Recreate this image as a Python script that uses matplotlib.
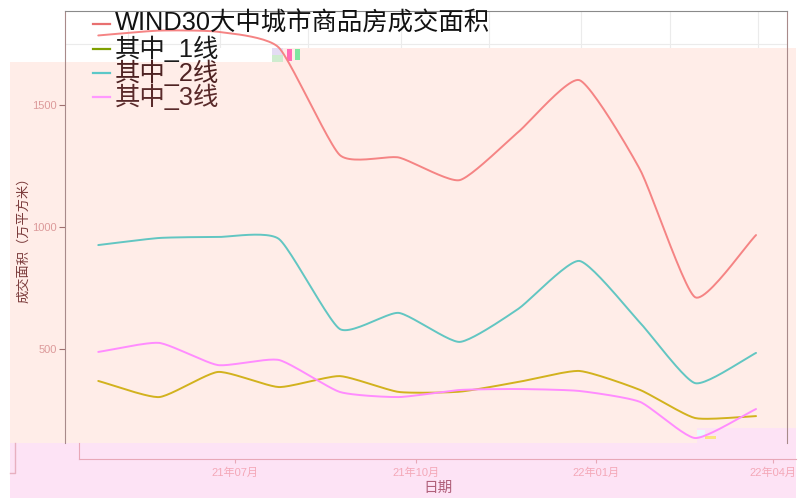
import numpy as np
import matplotlib
matplotlib.use('Agg')
import matplotlib.pyplot as plt
import matplotlib.dates as mdates
from matplotlib.patches import Rectangle
from matplotlib.lines import Line2D
import datetime as dt

plt.rcParams['font.family'] = ['Liberation Sans', 'Noto Sans CJK SC']

# ---------------- data ----------------
dates = ['2021-04-30', '2021-05-31', '2021-06-30', '2021-07-31', '2021-08-31', '2021-09-30',
         '2021-10-31', '2021-11-30', '2021-12-31', '2022-01-31', '2022-02-28', '2022-03-31']
total = [1785, 1805, 1800, 1735, 1295, 1285, 1192, 1390, 1602, 1234, 712, 967]
tier1 = [369, 303, 406, 344, 389, 324, 325, 365, 410, 332, 217, 225]
tier2 = [926, 955, 959, 951, 582, 648, 529, 665, 861, 607, 360, 484]
tier3 = [488, 525, 434, 455, 324, 303, 332, 336, 328, 283, 135, 254]
series_names = ['WIND30大中城市商品房成交面积', '其中_1线', '其中_2线', '其中_3线']
y_ticks = [500, 1000, 1500]
y_minor = [750, 1250, 1750]
x_tick_dates = ['2021-07-01', '2021-10-01', '2022-01-01', '2022-04-01']
y_label = '成交面积（万平方米）'
x_label = '日期'

line_colors = ['#f58484', '#d2b21e', '#62c6c2', '#ff8cff']
legend_colors = ['#e87070', '#7fa000', '#5cc8c8', '#ff99ff']
legend_text_colors = ['#111111', '#1a1a1a', '#4e2222', '#5a2a2a']

W, H = 801, 498
fig = plt.figure(figsize=(W / 100, H / 100), dpi=100, facecolor='white')


def fx(px):
    return px / W


def fy(py):
    return 1 - py / H


def smooth(x, y, n=24, s=0.55):
    """cardinal spline (rendering only) through the given points"""
    x = np.asarray(x, float)
    y = np.asarray(y, float)
    k = len(x)
    mx = np.zeros(k)
    my = np.zeros(k)
    for i in range(k):
        a = max(i - 1, 0)
        b = min(i + 1, k - 1)
        mx[i] = s * (x[b] - x[a]) / (b - a)
        my[i] = s * (y[b] - y[a]) / (b - a)
    t = np.linspace(0, 1, n, endpoint=False)
    h00 = 2 * t ** 3 - 3 * t ** 2 + 1
    h10 = t ** 3 - 2 * t ** 2 + t
    h01 = -2 * t ** 3 + 3 * t ** 2
    h11 = t ** 3 - t ** 2
    ox, oy = [], []
    for i in range(k - 1):
        ox.extend(h00 * x[i] + h10 * mx[i] + h01 * x[i + 1] + h11 * mx[i + 1])
        oy.extend(h00 * y[i] + h10 * my[i] + h01 * y[i + 1] + h11 * my[i + 1])
    ox.append(x[-1])
    oy.append(y[-1])
    return np.array(ox), np.array(oy)


xd = mdates.date2num([dt.datetime.strptime(d, '%Y-%m-%d') for d in dates])

ax = fig.add_axes([fx(65), fy(443), fx(787) - fx(65), fy(11) - fy(443)])
ax.set_facecolor('white')

jul1 = mdates.date2num(dt.datetime(2021, 7, 1))
ppd = 538 / 274.0
ax.set_xlim(jul1 - (220 - 65) / ppd, jul1 + (787 - 220) / ppd)
ax.set_ylim((471 - 443) / 0.244, (471 - 11) / 0.244)

ax.xaxis.set_major_locator(mdates.MonthLocator(bymonth=[1, 4, 7, 10]))
ax.xaxis.set_minor_locator(mdates.MonthLocator(bymonth=[2, 5, 8, 11], bymonthday=15))
ax.set_yticks(y_ticks)
ax.set_yticks(y_minor, minor=True)
# grid lines below the overlay band
for v in list(ax.xaxis.get_majorticklocs()) + list(ax.xaxis.get_minorticklocs()):
    ax.axvline(v, color='#ebebeb', lw=0.8, zorder=0.3)
for v in y_ticks + y_minor:
    ax.axhline(v, color='#ebebeb', lw=0.8, zorder=0.3)
ax.tick_params(axis='x', which='both', length=0, labelbottom=False)
ax.tick_params(axis='y', which='minor', length=0)
ax.tick_params(axis='y', which='major', length=4, color='#a07070', labelcolor='#dc9a9a',
               labelsize=8, pad=2)
ax.spines['top'].set_color('#8a8a8a')
for s in ['left', 'right']:
    ax.spines[s].set_color('#a88a8a')
ax.spines['bottom'].set_visible(False)

ax.set_ylabel(y_label, color='#7a3a3a', fontsize=9.5)
ax.yaxis.set_label_coords((30 - 65) / 722, (443 - 237) / 432)


def frect(x0, y0, x1, y1, color, z):
    r = Rectangle((fx(x0), fy(y1)), fx(x1) - fx(x0), fy(y0) - fy(y1), transform=fig.transFigure,
                  facecolor=color, edgecolor='none', clip_on=False, zorder=z)
    ax.add_patch(r)


frect(10, 48, 796, 443, '#ffede8', 1.5)
frect(10, 48, 273, 62, 'white', 1.6)
frect(10, 443, 796, 498, '#fde3f5', 1.5)
frect(697, 428, 796, 443, '#fde3f5', 1.5)
# small glitch blocks
frect(272, 48, 283, 55, '#e4dcf4', 1.7)
frect(272, 55, 283, 62, '#cfeccf', 1.7)
frect(287, 49, 292, 61, '#ff6cb4', 1.7)
frect(295, 49, 300, 60, '#7ee6a0', 1.7)
frect(697, 430, 705, 436, '#e8fbfb', 1.7)
frect(705, 436, 716, 439, '#f8e680', 1.7)

for vals, c in zip([total, tier1, tier2, tier3], line_colors):
    sx, sy = smooth(xd, vals)
    ax.plot(sx, sy, color=c, lw=1.4, zorder=2, solid_capstyle='round')

# lower band axis
ax2 = fig.add_axes([fx(79), fy(459), fx(796) - fx(79), fy(443) - fy(459)])
ax2.set_facecolor('none')
ax2.set_zorder(2)
ax2.set_xlim(jul1 - (235 - 79) / ppd, jul1 + (796 - 235) / ppd)
ax2.set_ylim(0, 1)
xt = mdates.date2num([dt.datetime.strptime(d, '%Y-%m-%d') for d in x_tick_dates])
ax2.set_xticks(xt)
ax2.set_xticklabels([dt.datetime.strptime(d, '%Y-%m-%d').strftime('%y年%m月') for d in x_tick_dates])
ax2.set_yticks([])
ax2.tick_params(axis='x', length=3, color='#e8a8b8', labelcolor='#f4a8b8', labelsize=8, pad=3)
for s in ['top', 'right']:
    ax2.spines[s].set_visible(False)
for s in ['left', 'bottom']:
    ax2.spines[s].set_color('#e8a8b8')
ax2.set_xlabel(x_label, color='#b0607a', fontsize=10.5, labelpad=2)

fig.add_artist(Line2D([fx(15), fx(15), fx(10)], [fy(443), fy(473), fy(473)],
                      color='#e8b0c0', lw=1, transform=fig.transFigure))

# legend (manual)
ys = [24, 49, 73, 97]
for name, yy, lc, tc in zip(series_names, ys, legend_colors, legend_text_colors):
    fig.add_artist(Line2D([fx(93), fx(110)], [fy(yy), fy(yy)], color=lc, lw=1.6,
                          transform=fig.transFigure))
    fig.text(fx(115), fy(yy), name, color=tc, fontsize=18.3, va='center', ha='left')

fig.savefig('out.png', dpi=100, facecolor='white')
